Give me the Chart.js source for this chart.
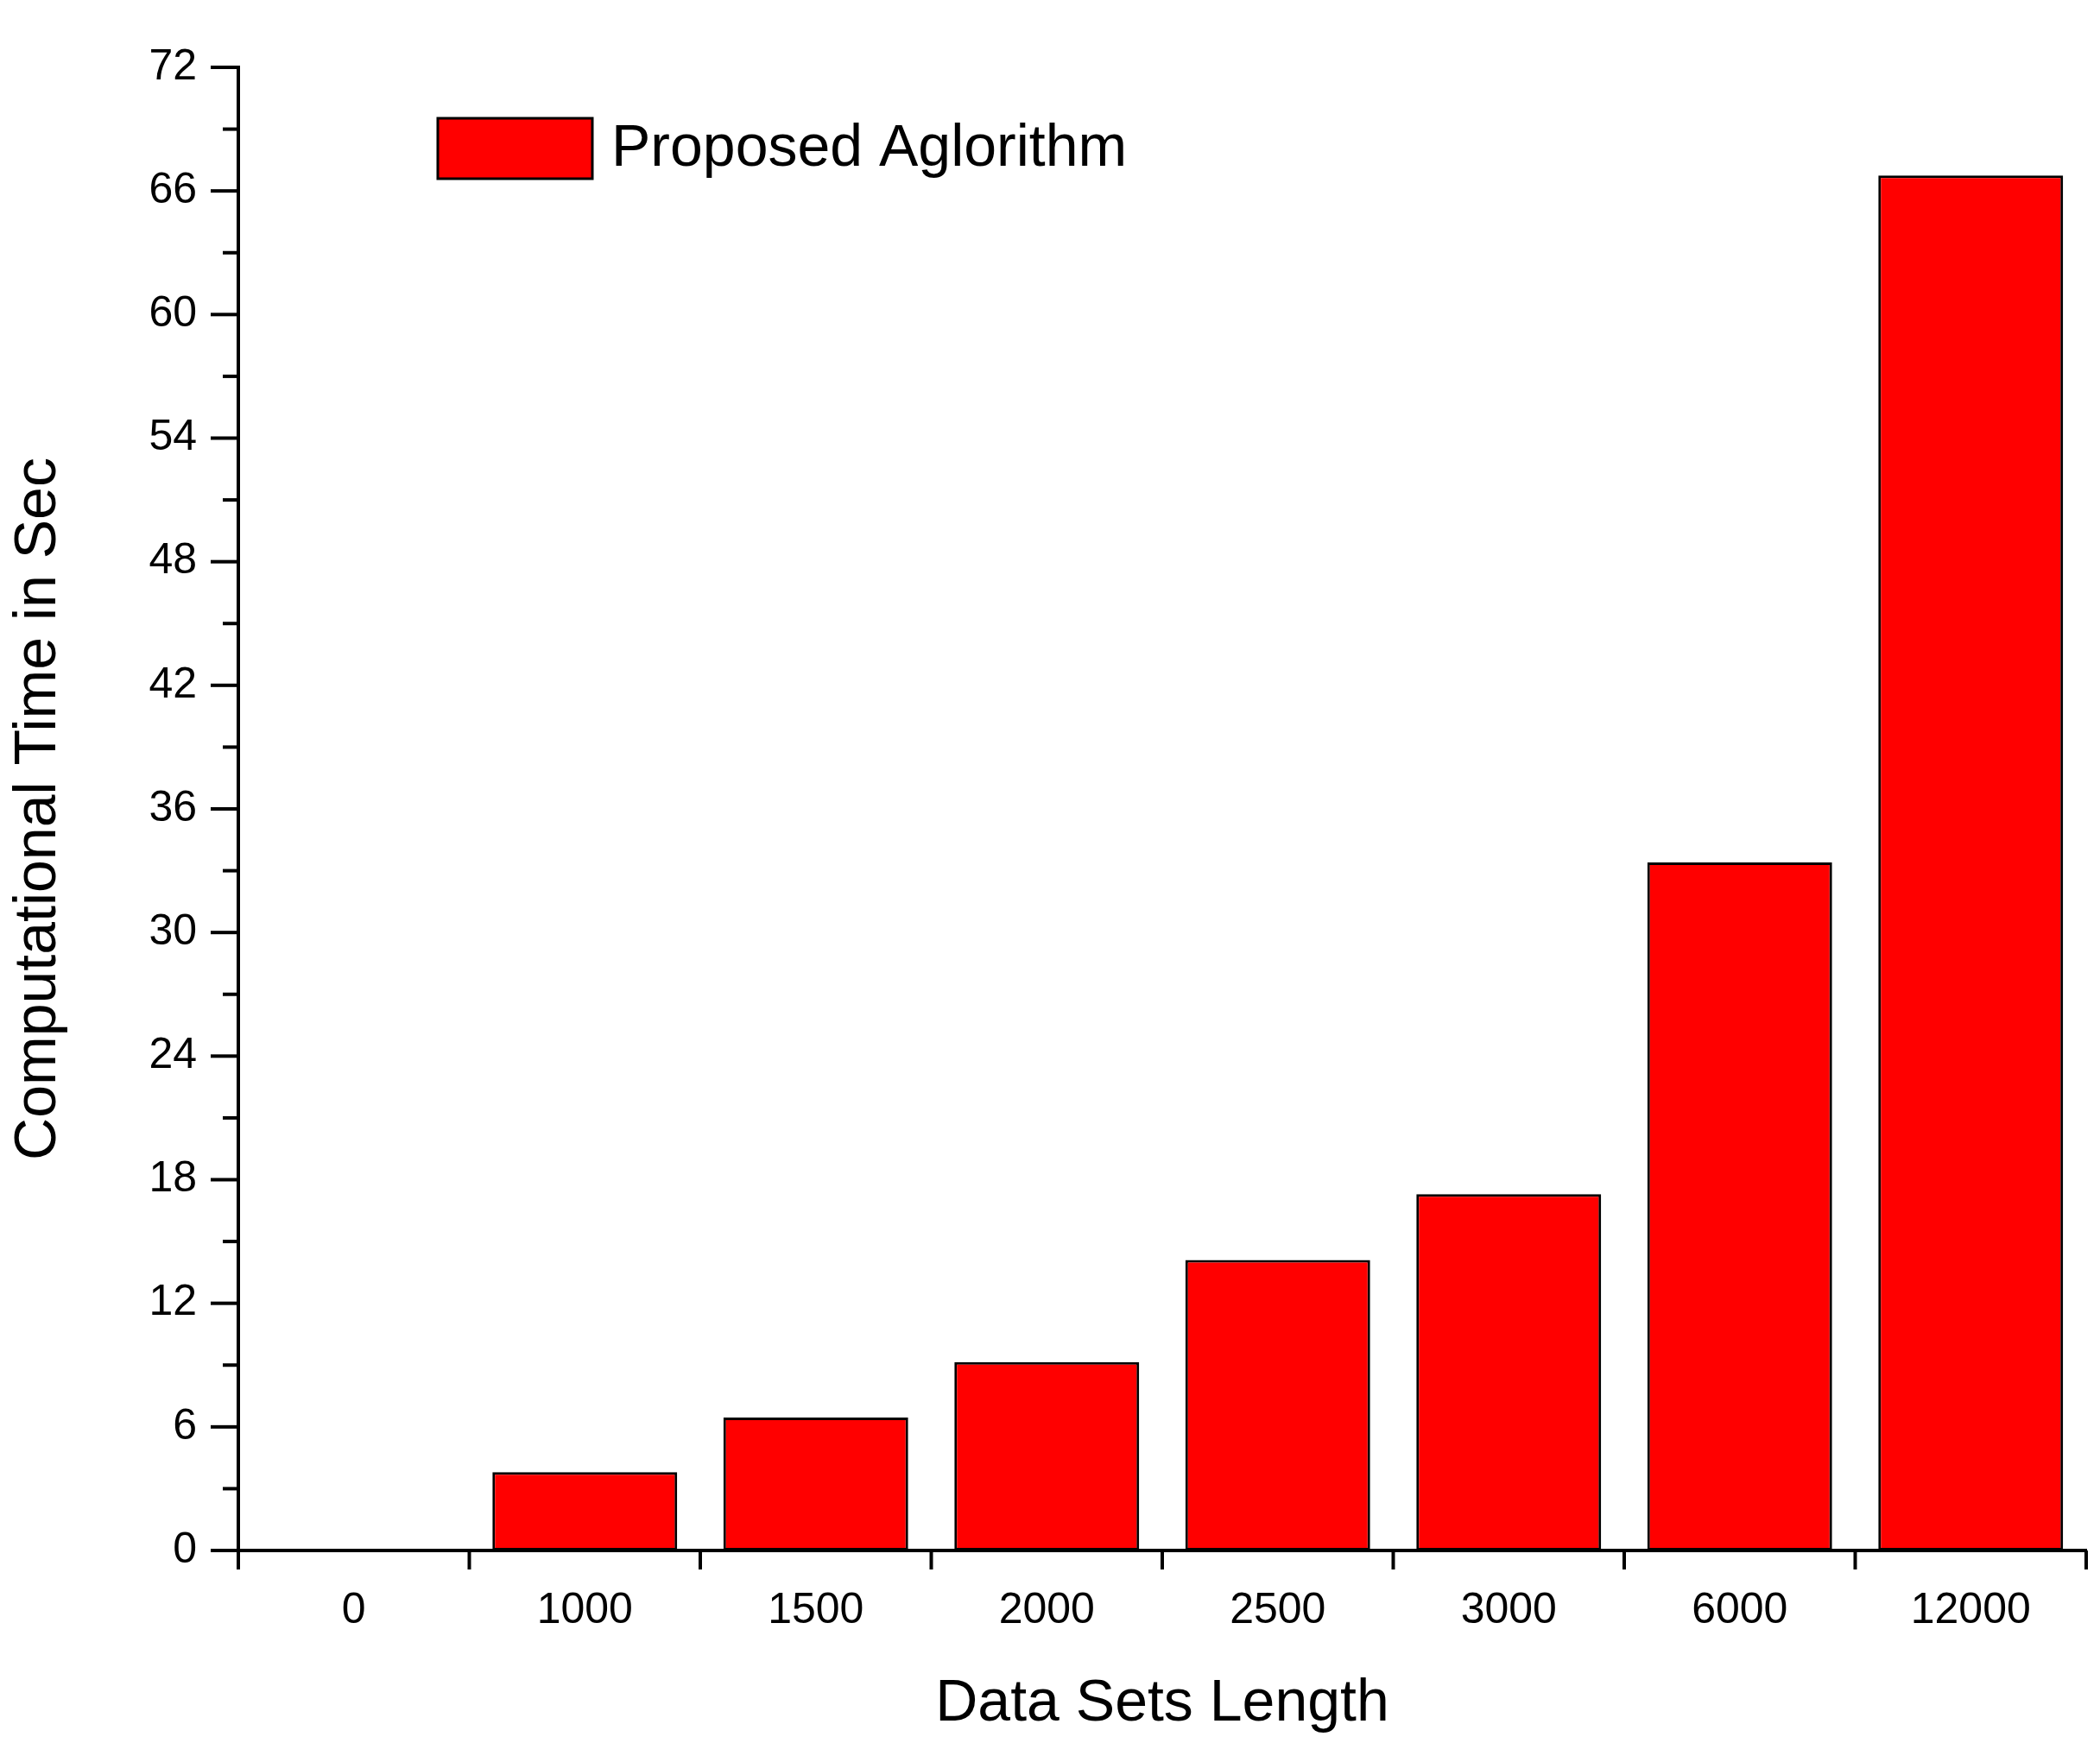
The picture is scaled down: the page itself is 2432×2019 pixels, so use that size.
<!DOCTYPE html>
<html>
<head>
<meta charset="utf-8">
<script src="https://cdn.jsdelivr.net/npm/chart.js@4"></script>
<style>
  html, body { margin: 0; padding: 0; background: #fff; }
  #wrap { width: 2432px; height: 2019px; }
</style>
</head>
<body>
<div id="wrap"><canvas id="chart"></canvas></div>
<script>
// data
const categories = ["0", "1000", "1500", "2000", "2500", "3000", "6000", "12000"];
const timeValues = [0, 3.8, 6.45, 9.15, 14.1, 17.3, 33.4, 66.75];
const yTicks = [0, 6, 12, 18, 24, 30, 36, 42, 48, 54, 60, 66, 72];

const FONT = "'Liberation Sans', Arial, sans-serif";

// draws outward ticks (major + minor on y, boundaries on x) and the legend
const axisDecor = {
    id: "axisDecor",
    afterDraw(chart) {
        const ctx = chart.ctx;
        const x = chart.scales.x, y = chart.scales.y;
        const area = chart.chartArea;
        ctx.save();
        ctx.strokeStyle = "#000";
        ctx.lineWidth = 4;
        for (let v = 0; v <= 72; v += 3) {
            const py = y.getPixelForValue(v);
            const len = v % 6 === 0 ? 32 : 18;
            ctx.beginPath();
            ctx.moveTo(area.left, py);
            ctx.lineTo(area.left - len, py);
            ctx.stroke();
        }
        const step = (area.right - area.left) / categories.length;
        for (let i = 0; i <= categories.length; i++) {
            const px = area.left + i * step;
            ctx.beginPath();
            ctx.moveTo(px, area.bottom);
            ctx.lineTo(px, area.bottom + 22);
            ctx.stroke();
        }
        // legend
        const ds = chart.data.datasets[0];
        ctx.fillStyle = ds.backgroundColor;
        ctx.fillRect(507, 137, 179, 70);
        ctx.lineWidth = 3;
        ctx.strokeRect(507, 137, 179, 70);
        ctx.fillStyle = "#000";
        ctx.font = "68px " + FONT;
        ctx.textBaseline = "middle";
        ctx.fillText(ds.label, 708, 173);
        ctx.restore();
    }
};

new Chart(document.getElementById("chart"), {
    type: "bar",
    data: {
        labels: categories,
        datasets: [{
            label: "Proposed Aglorithm",
            data: timeValues,
            backgroundColor: "#ff0000",
            borderColor: "#000",
            borderWidth: 3,
            borderSkipped: false,
            barPercentage: 0.8,
            categoryPercentage: 1.0
        }]
    },
    options: {
        responsive: true,
        maintainAspectRatio: false,
        animation: false,
        layout: { padding: { top: 58, right: 16, left: 0, bottom: 0 } },
        plugins: { legend: { display: false }, tooltip: { enabled: false } },
        scales: {
            x: {
                offset: true,
                grid: { display: false, drawTicks: false },
                border: { display: true, color: "#000", width: 4 },
                ticks: { color: "#000", font: { family: FONT, size: 50 }, padding: 40, maxRotation: 0 },
                title: { display: true, text: "Data Sets Length", color: "#000", font: { family: FONT, size: 68 }, padding: { top: 10 } },
                afterFit(s) { s.height = 2019 - 1796; }
            },
            y: {
                min: 0, max: 72,
                afterBuildTicks(s) { s.ticks = yTicks.map(v => ({ value: v })); },
                grid: { display: false, drawTicks: false },
                border: { display: true, color: "#000", width: 4 },
                ticks: { color: "#000", font: { family: FONT, size: 50 }, padding: 48 },
                title: { display: true, text: "Computational Time in Sec", color: "#000", font: { family: FONT, size: 68 }, padding: { bottom: 10 } },
                afterFit(s) { s.width = 276; }
            }
        }
    },
    plugins: [axisDecor]
});
</script>
</body>
</html>
